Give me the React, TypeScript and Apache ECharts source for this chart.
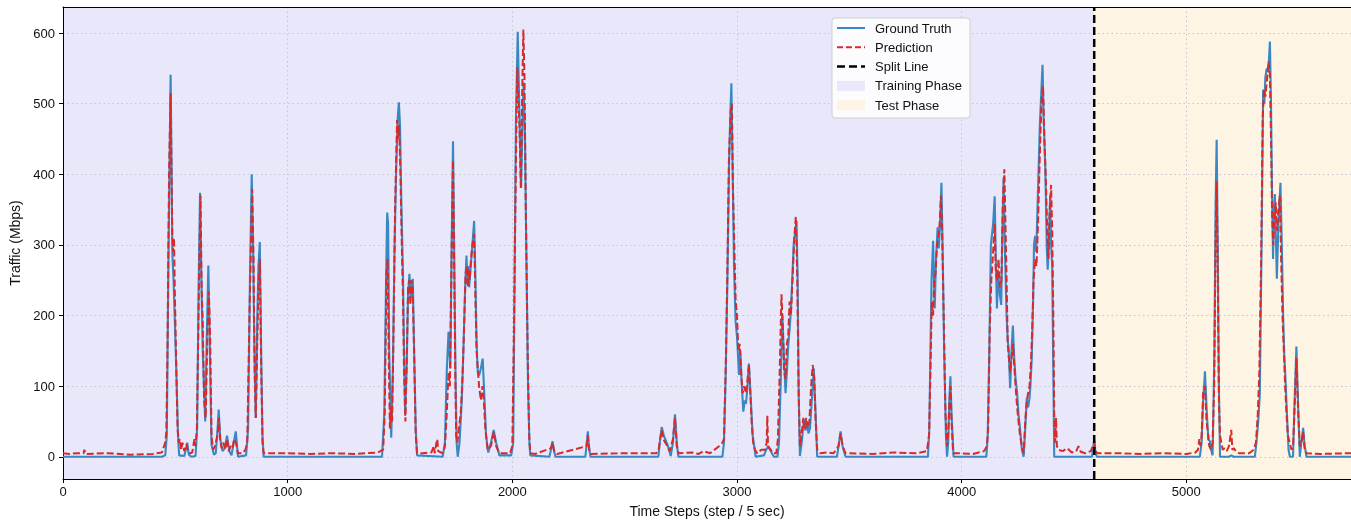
import React, { useEffect, useRef } from 'react';
import * as echarts from 'echarts';

const X_MAX = 5733;
const SPLIT_STEP = 4590;
const Y_MIN = -31.5;
const Y_MAX = 637;
const yTicks = [0, 100, 200, 300, 400, 500, 600];

const xName = 'Time Steps (step / 5 sec)';
const yName = 'Traffic (Mbps)';
const legendNames = ['Ground Truth', 'Prediction', 'Split Line', 'Training Phase', 'Test Phase'];

const groundTruth: [number, number][] = [
  [0,0],[440,0],[455,2],[462,30],[470,300],[479,541],[483,420],[487,285],[492,250],[497,200],[505,116],[512,30],[517,2],[540,1],[548,12],[553,20],[560,3],[572,0],[590,1],[597,40],[604,250],[610,374],[616,250],[622,150],[633,50],[640,170],[647,271],[652,180],[661,17],[672,3],[680,5],[688,40],[693,67],[700,25],[710,8],[720,12],[730,30],[740,8],[750,2],[760,20],[769,36],[779,0],[815,2],[824,40],[832,250],[840,400],[846,300],[852,150],[858,55],[865,200],[870,270],[876,304],[882,150],[888,30],[893,0],
  [1420,0],[1430,60],[1438,250],[1443,346],[1447,330],[1452,150],[1461,27],[1468,120],[1476,300],[1483,407],[1490,480],[1495,502],[1500,470],[1506,360],[1513,262],[1518,150],[1523,60],[1530,130],[1536,230],[1542,259],[1548,225],[1552,240],[1557,252],[1563,150],[1570,40],[1576,2],
  [1690,0],[1700,20],[1708,120],[1716,177],[1724,125],[1730,300],[1736,447],[1741,300],[1747,120],[1752,20],[1757,0],[1765,20],[1775,80],[1782,149],[1790,240],[1796,285],[1800,245],[1804,270],[1808,240],[1813,262],[1820,290],[1830,334],[1836,250],[1841,160],[1846,121],[1852,115],[1860,125],[1868,139],[1875,90],[1883,30],[1893,6],[1905,20],[1917,38],[1928,20],[1942,2],
  [1995,2],[2004,20],[2010,250],[2016,477],[2024,602],[2028,540],[2031,496],[2035,430],[2039,381],[2043,440],[2046,484],[2050,530],[2056,459],[2062,300],[2070,100],[2076,20],[2080,2],
  [2165,0],[2172,10],[2179,22],[2186,8],[2192,0],[2325,0],[2331,18],[2336,36],[2342,12],[2348,0],
  [2650,0],[2658,25],[2665,42],[2675,29],[2690,18],[2705,1],[2715,20],[2724,60],[2732,20],[2739,0],
  [2935,0],[2942,20],[2950,120],[2957,243],[2965,420],[2970,480],[2975,529],[2980,420],[2987,266],[2994,191],[3000,170],[3009,116],[3015,150],[3020,110],[3028,64],[3035,80],[3040,75],[3047,100],[3053,132],[3060,90],[3070,30],[3083,0],[3120,2],[3130,10],[3139,15],[3150,8],[3164,0],
  [3180,0],[3187,20],[3195,110],[3202,200],[3208,150],[3216,90],[3222,120],[3228,158],[3234,180],[3240,207],[3247,260],[3253,304],[3260,320],[3265,334],[3270,250],[3275,80],[3280,1],[3288,20],[3298,53],[3305,37],[3312,50],[3318,33],[3325,40],[3335,90],[3342,125],[3350,60],[3357,0],
  [3445,0],[3452,15],[3461,36],[3470,15],[3483,0],
  [3850,0],[3856,40],[3861,150],[3866,250],[3873,306],[3877,250],[3880,210],[3886,280],[3893,325],[3898,295],[3904,330],[3910,388],[3915,300],[3922,150],[3930,30],[3935,0],[3940,20],[3945,80],[3950,114],[3955,60],[3964,0],
  [4110,0],[4116,30],[4123,150],[4130,300],[4140,330],[4147,369],[4152,280],[4157,210],[4163,260],[4170,230],[4176,215],[4182,330],[4187,395],[4192,300],[4200,200],[4205,165],[4209,154],[4213,120],[4216,97],[4222,150],[4228,186],[4234,140],[4240,110],[4247,90],[4253,60],[4260,40],[4268,10],[4276,0],[4283,40],[4290,83],[4296,70],[4302,83],[4306,100],[4312,139],[4318,220],[4322,300],[4327,313],[4332,290],[4340,380],[4348,470],[4355,520],[4360,555],[4365,480],[4372,412],[4376,350],[4379,294],[4383,265],[4388,300],[4394,370],[4398,300],[4403,270],[4407,150],[4412,0],
  [4580,0],[4590,24],[4596,5],[4602,0],
  [5060,0],[5068,20],[5075,80],[5083,121],[5090,70],[5098,24],[5105,22],[5110,10],[5117,2],[5125,150],[5130,350],[5135,449],[5140,300],[5145,100],[5150,0],[5190,0],[5200,2],[5210,0],
  [5305,0],[5312,20],[5320,50],[5327,88],[5335,300],[5342,520],[5347,500],[5352,538],[5358,550],[5365,545],[5372,588],[5377,500],[5381,388],[5386,280],[5390,340],[5394,372],[5398,320],[5403,252],[5410,330],[5419,388],[5425,300],[5431,200],[5436,144],[5440,120],[5448,60],[5455,10],[5461,0],[5475,0],[5482,80],[5490,156],[5497,80],[5505,0],[5512,20],[5520,41],[5527,15],[5535,0],[5733,0]
];

const prediction: [number, number][] = [
  [0,5],[30,4],[60,5],[92,5],[95,10],[100,4],[200,5],[300,3],[400,4],[440,6],[455,20],[460,35],[465,150],[472,400],[479,515],[483,400],[486,315],[490,290],[494,310],[498,230],[505,110],[510,40],[515,20],[520,25],[526,10],[532,20],[540,8],[550,18],[556,8],[565,5],[575,6],[585,25],[590,15],[596,40],[604,220],[612,370],[617,240],[622,190],[628,80],[635,55],[642,160],[649,234],[655,170],[661,30],[668,10],[676,15],[688,30],[694,55],[700,22],[706,12],[714,20],[722,10],[730,25],[738,8],[746,15],[754,12],[762,25],[770,20],[778,5],[800,5],[812,10],[820,20],[830,200],[842,379],[848,280],[853,120],[858,55],[864,150],[870,240],[876,280],[882,130],[888,20],[893,5],
  [1000,5],[1100,4],[1200,5],[1300,4],[1400,6],[1425,10],[1432,60],[1440,260],[1445,280],[1450,140],[1455,40],[1460,70],[1465,50],[1470,150],[1478,350],[1487,477],[1492,450],[1496,470],[1502,400],[1508,300],[1513,230],[1518,120],[1524,50],[1530,140],[1536,240],[1542,250],[1546,215],[1550,250],[1556,240],[1562,160],[1570,30],[1576,5],
  [1600,5],[1640,6],[1650,15],[1655,5],[1661,18],[1666,25],[1670,8],[1690,5],[1700,15],[1708,60],[1716,120],[1722,100],[1728,250],[1736,420],[1741,270],[1746,120],[1750,30],[1755,20],[1762,40],[1770,60],[1778,110],[1785,180],[1792,260],[1798,270],[1802,240],[1806,265],[1810,250],[1816,280],[1822,300],[1830,315],[1836,220],[1841,150],[1846,125],[1852,100],[1860,80],[1867,100],[1873,80],[1880,40],[1890,10],[1905,15],[1917,35],[1928,15],[1942,5],
  [1990,5],[2000,15],[2008,200],[2016,420],[2022,552],[2028,500],[2032,470],[2038,380],[2043,500],[2049,605],[2054,540],[2060,350],[2068,150],[2075,30],[2080,5],
  [2100,4],[2172,12],[2179,20],[2186,8],[2200,4],[2330,15],[2336,30],[2342,10],[2350,4],[2500,5],[2640,5],[2650,8],[2658,25],[2665,38],[2672,25],[2690,15],[2700,8],[2715,25],[2724,55],[2732,15],[2740,5],[2800,6],[2830,4],[2850,8],[2880,5],[2920,15],[2935,20],
  [2942,25],[2950,130],[2957,260],[2964,420],[2972,490],[2977,500],[2982,380],[2988,300],[2994,220],[3000,200],[3006,150],[3012,160],[3018,120],[3025,90],[3032,100],[3040,90],[3047,110],[3053,130],[3058,100],[3065,50],[3072,20],[3080,10],[3090,5],[3100,8],[3110,10],[3125,10],[3132,20],[3135,58],[3138,15],[3150,10],[3160,5],
  [3175,5],[3182,25],[3190,120],[3198,230],[3204,180],[3210,120],[3216,110],[3222,160],[3228,170],[3234,220],[3240,200],[3247,250],[3255,310],[3262,340],[3268,260],[3274,100],[3280,15],[3287,30],[3295,55],[3302,40],[3308,55],[3315,40],[3322,50],[3330,100],[3337,130],[3344,110],[3350,50],[3357,10],[3370,5],[3400,6],[3430,5],[3452,15],[3461,33],[3470,15],[3483,5],
  [3600,4],[3700,6],[3800,5],[3845,8],[3855,30],[3861,120],[3867,220],[3873,200],[3878,250],[3884,260],[3890,300],[3896,310],[3902,330],[3908,370],[3913,320],[3920,200],[3928,60],[3935,15],[3940,30],[3945,70],[3950,100],[3955,50],[3962,5],[3980,5],[4050,4],
  [4100,8],[4112,15],[4118,40],[4125,180],[4132,250],[4140,290],[4147,330],[4152,260],[4158,250],[4164,280],[4170,240],[4177,250],[4183,360],[4190,407],[4195,330],[4200,250],[4205,160],[4210,140],[4216,120],[4222,140],[4228,160],[4234,130],[4240,100],[4247,70],[4253,50],[4260,30],[4268,15],[4276,5],[4283,50],[4290,80],[4296,90],[4302,100],[4308,130],[4314,180],[4320,250],[4327,280],[4333,270],[4340,330],[4348,430],[4355,500],[4362,525],[4368,450],[4374,400],[4380,330],[4386,280],[4392,350],[4398,385],[4403,320],[4408,200],[4412,60],[4416,20],[4420,55],[4424,15],[4430,10],[4450,8],[4470,12],[4490,6],[4510,8],[4520,15],[4530,7],[4550,5],[4575,8],[4590,20],[4596,10],[4602,5],
  [4700,5],[4800,4],[4900,5],[5000,4],[5040,6],[5052,10],[5058,25],[5063,15],[5068,30],[5075,90],[5083,100],[5090,50],[5096,35],[5102,15],[5110,10],[5117,20],[5124,100],[5130,300],[5135,390],[5140,250],[5145,80],[5150,30],[5156,20],[5162,10],[5170,12],[5180,8],[5190,15],[5200,38],[5205,10],[5212,12],[5220,8],[5235,5],[5280,5],
  [5300,10],[5310,20],[5318,60],[5325,120],[5333,280],[5340,480],[5346,520],[5352,510],[5358,530],[5366,560],[5372,540],[5377,450],[5382,340],[5387,300],[5392,340],[5398,360],[5404,320],[5410,350],[5416,370],[5422,280],[5428,200],[5434,150],[5440,100],[5446,60],[5452,30],[5460,20],[5468,10],[5475,15],[5482,70],[5490,140],[5497,70],[5505,15],[5512,20],[5520,35],[5527,10],[5535,5],[5600,4],[5733,5]
];

const splitLineData: [number, number][] = [[SPLIT_STEP, Y_MIN], [SPLIT_STEP, Y_MAX]];

const FONT = '"Liberation Sans", Arial, sans-serif';
const GT_COLOR = '#3a88c3';
const PRED_COLOR = '#d8292b';
const TRAIN_BG = '#e8e8fa';
const TEST_BG = '#fdf4e3';
const GRID_COLOR = '#c6c6d0';

export default function App() {
  const ref = useRef<HTMLDivElement>(null);
  useEffect(() => {
    if (!ref.current) return;
    const chart = echarts.init(ref.current, null, { renderer: 'svg' });
    const legendX = 832, legendY = 18;
    const rowH = 19.3;
    const Z = 100;
    const legendEls: any[] = [
      { type: 'rect', z: Z, shape: { x: legendX, y: legendY, width: 138, height: 100, r: 3 }, style: { fill: 'rgba(255,255,255,0.85)', stroke: '#cfcfcf', lineWidth: 1 } },
    ];
    const sampleStyles: any[] = [
      { kind: 'line', stroke: GT_COLOR, dash: null, lw: 2 },
      { kind: 'line', stroke: PRED_COLOR, dash: [6, 3], lw: 2 },
      { kind: 'line', stroke: '#000', dash: [8, 4], lw: 2.5 },
      { kind: 'rect', fill: TRAIN_BG },
      { kind: 'rect', fill: TEST_BG },
    ];
    legendNames.forEach((name, i) => {
      const cy = legendY + 10 + i * rowH;
      const s = sampleStyles[i];
      if (s.kind === 'line') {
        const st: any = { stroke: s.stroke, lineWidth: s.lw };
        if (s.dash) st.lineDash = s.dash;
        legendEls.push({ type: 'line', z: Z + 1, shape: { x1: legendX + 5, y1: cy, x2: legendX + 33, y2: cy }, style: st });
      } else {
        legendEls.push({ type: 'rect', z: Z + 1, shape: { x: legendX + 5, y: cy - 5, width: 28, height: 10 }, style: { fill: s.fill } });
      }
      legendEls.push({ type: 'text', z: Z + 1, x: legendX + 43, y: cy, style: { text: name, fill: '#111', fontSize: 13, fontFamily: FONT, verticalAlign: 'middle' } });
    });

    const fmt = (v: number) => String(v);

    chart.setOption({
      animation: false,
      grid: { left: 63, right: 0, top: 7, bottom: 42, show: false },
      xAxis: [{
        type: 'value', min: 0, max: X_MAX, interval: 1000, z: 10,
        name: xName, nameLocation: 'middle', nameGap: 25,
        nameTextStyle: { fontSize: 14, color: '#111', fontFamily: FONT },
        axisLine: { show: true, onZero: false, lineStyle: { color: '#000', width: 1 } },
        axisTick: { show: true, inside: false, length: 4, lineStyle: { color: '#000' } },
        axisLabel: { fontSize: 13, color: '#111', fontFamily: FONT, margin: 6, showMaxLabel: false, formatter: fmt },
        splitLine: { show: true, lineStyle: { color: GRID_COLOR, type: [1.5, 3], width: 1 } },
      }, {
        type: 'value', min: 0, max: X_MAX, position: 'top', z: 10,
        axisLine: { show: true, onZero: false, lineStyle: { color: '#000', width: 1 } },
        axisTick: { show: false }, axisLabel: { show: false }, splitLine: { show: false },
      }],
      yAxis: {
        type: 'value', min: Y_MIN, max: Y_MAX, z: 10,
        name: yName, nameLocation: 'middle', nameGap: 39,
        nameTextStyle: { fontSize: 14, color: '#111', fontFamily: FONT },
        axisLine: { show: true, onZero: false, lineStyle: { color: '#000', width: 1 } },
        axisTick: { show: true, inside: false, length: 4, lineStyle: { color: '#000' }, customValues: yTicks },
        axisLabel: { fontSize: 13, color: '#111', fontFamily: FONT, margin: 8, customValues: yTicks, formatter: fmt },
        splitLine: { show: true, lineStyle: { color: GRID_COLOR, type: [1.5, 3], width: 1 } },
      },
      series: [
        {
          name: 'phases', type: 'line', data: [], z: 1, silent: true,
          markArea: {
            silent: true,
            data: [
              [{ xAxis: 0, itemStyle: { color: TRAIN_BG } }, { xAxis: SPLIT_STEP }],
              [{ xAxis: SPLIT_STEP, itemStyle: { color: TEST_BG } }, { xAxis: X_MAX }],
            ],
          },
        },
        {
          name: 'Ground Truth', type: 'line', data: groundTruth, z: 20, showSymbol: false, symbol: 'none',
          lineStyle: { color: GT_COLOR, width: 2.1 }, clip: true,
        },
        {
          name: 'Prediction', type: 'line', data: prediction, z: 21, showSymbol: false, symbol: 'none',
          lineStyle: { color: PRED_COLOR, width: 2, type: [7, 3] }, clip: true,
        },
        {
          name: 'Split Line', type: 'line', data: splitLineData, z: 22, showSymbol: false, symbol: 'none',
          lineStyle: { color: '#000', width: 2.5, type: [8, 4] }, clip: true,
        },
      ],
      graphic: { elements: legendEls },
    });
    return () => chart.dispose();
  }, []);
  return <div ref={ref} style={{ position: 'fixed', left: 0, top: 0, width: 1351, height: 523 }} />;
}
